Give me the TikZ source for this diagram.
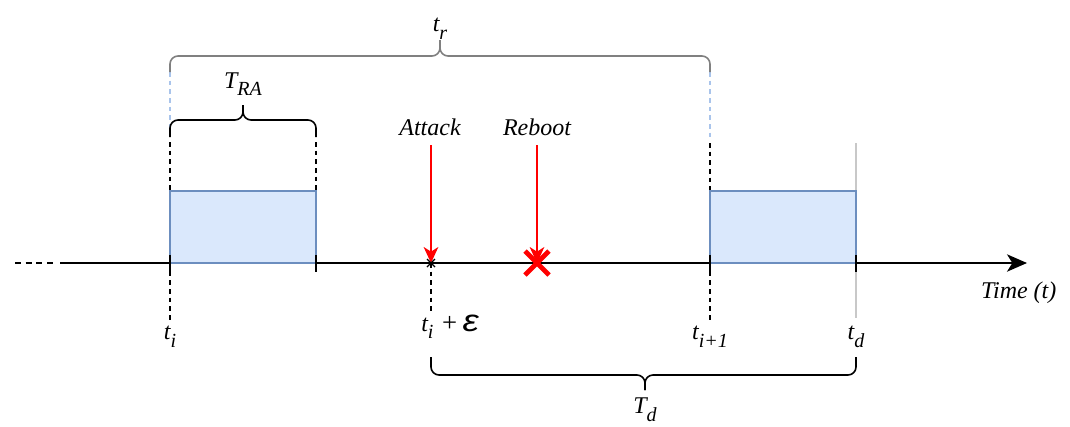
\documentclass[tikz,border=0pt]{standalone}
\usepackage{fontspec}
\setmainfont{Liberation Serif}
\newfontfamily\epsfont{Liberation Sans}
\usetikzlibrary{arrows.meta}
\definecolor{boxfill}{HTML}{DAE8FC}
\definecolor{boxline}{HTML}{6C8EBF}
\definecolor{lightblue}{HTML}{A9C4EB}
\definecolor{bracegray}{HTML}{808080}
\definecolor{tdgray}{HTML}{C8C8C8}
\newcommand\sbs[1]{\raisebox{-0.32em}{\fontsize{15}{15}\selectfont #1}}
\begin{document}
\begin{tikzpicture}[x=0.75pt,y=-0.75pt,
  lbl/.style={font=\fontsize{18}{20}\selectfont\itshape, inner sep=1pt},
  axisline/.style={line width=1.2pt},
  tick/.style={line width=1.2pt},
  box/.style={draw=boxline, fill=boxfill, line width=1pt},
  vdash/.style={line width=1.1pt, dash pattern=on 3.5pt off 3pt},
  bluedash/.style={lightblue, line width=1.1pt, dash pattern=on 3.5pt off 3pt},
  bracket/.style={line width=1.2pt, rounded corners=6pt},
  redarrow/.style={red, line width=1pt, -{Stealth[length=12pt,width=11pt,inset=3.5pt]}}
]
\useasboundingbox (0,0) rectangle (1070,426);

% guide lines above boxes
\draw[bluedash] (170,72) -- (170,140);
\draw[bluedash] (710,72) -- (710,140);
\draw[vdash] (170,142) -- (170,191);
\draw[vdash] (316,142) -- (316,191);
\draw[vdash] (710,143) -- (710,191);
\draw[tdgray, line width=1.5pt] (856,143) -- (856,318);

% axis
\draw[axisline, dash pattern=on 4.5pt off 3.5pt] (15,263) -- (57,263);
\coordinate (axstart) at (60,263);
\coordinate (axend) at (1027,263);
\draw[axisline, -{Stealth[length=15pt,width=13pt,inset=4pt]}] (axstart) -- (axend);

% boxes
\draw[box] (170,191) rectangle (316,263);
\draw[box] (710,191) rectangle (856,263);

% ticks
\foreach \x in {170,316,710,856} \draw[tick] (\x,255) -- (\x,272);

% dashed lines below axis
\draw[vdash] (170,263) -- (170,320);
\draw[vdash] (710,263) -- (710,320);
\draw[vdash] (431,263) -- (431,312);

% labels
\node[lbl] (tr) at (440,29) {t\sbs{r}};
\node[lbl] (tra) at (243,84) {T\sbs{RA}};
\node[lbl] (attack) at (430,127) {Attack};
\node[lbl] (reboot) at (537,127) {Reboot};
\node[lbl] (ti) at (170,337) {t\sbs{i}};
\node[lbl, anchor=base west, inner sep=0pt] (tie) at (421,331) {t\sbs{i}\hspace{6.5pt}{\upshape\fontsize{20}{20}\selectfont +}\hspace{4pt}{\epsfont\itshape\fontsize{23}{23}\selectfont\scalebox{1.2}[1]{ε}}};
\node[lbl] (ti1) at (710,337) {t\sbs{i+1}};
\node[lbl] (td) at (856,337) {t\sbs{d}};
\node[lbl, anchor=east] (time) at (1058,293) {Time (t)};
\node[lbl] (Td) at (645,410) {T\sbs{d}};

% red arrows
\coordinate (atk) at (431,263);
\coordinate (rbt) at (537,263);
\draw[redarrow] (431,145) -- (atk);
\draw[redarrow] (537,145) -- (rbt);
\draw[line width=1pt] (427,259) -- (435,267) (427,267) -- (435,259);
\draw[red, line width=3.6pt] (525,251) -- (549,275) (525,275) -- (549,251);

% braces
\draw[bracket, bracegray] (170,72) |- (440,56) -- (440,40);
\draw[bracket, bracegray] (710,72) |- (440,56) -- (440,40);
\draw[bracket] (170,137) |- (243,120) -- (243,105);
\draw[bracket] (316,137) |- (243,120) -- (243,105);
\draw[bracket] (431,357) |- (645,375) -- (645,390);
\draw[bracket] (856,357) |- (645,375) -- (645,390);
\end{tikzpicture}
\end{document}
